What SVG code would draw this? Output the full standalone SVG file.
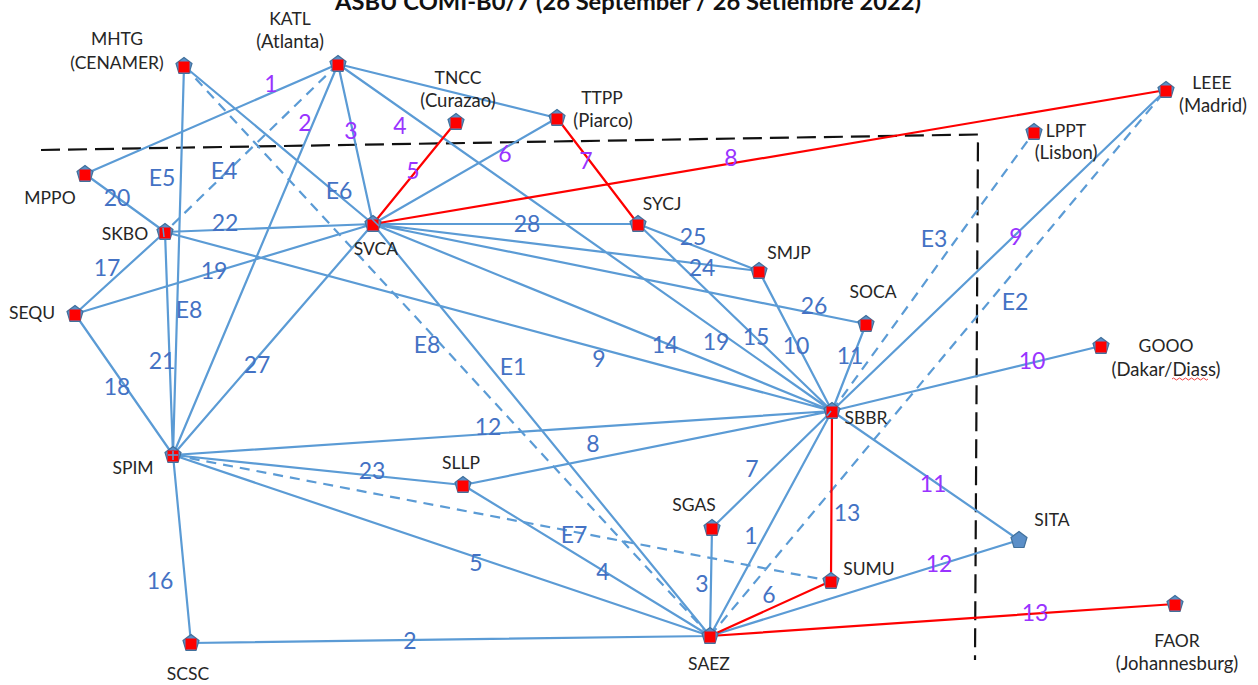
<svg xmlns="http://www.w3.org/2000/svg" width="1258" height="685" viewBox="0 0 1258 685">
<style>
text{font-family:Lato,"Open Sans","Liberation Sans",sans-serif}
.l{fill:none;stroke:#5b9bd5;stroke-width:2.2}
.d{fill:none;stroke:#5b9bd5;stroke-width:2.2;stroke-dasharray:10 7}
.r{fill:none;stroke:#fe0000;stroke-width:2.2}
.k{fill:none;stroke:#111;stroke-width:2.2;stroke-dasharray:19 8}
.n{font-size:17.500px;fill:#262626;text-anchor:middle}
.w{font-size:18.500px;fill:#262626;text-anchor:middle}
.b{font-size:23px;fill:#4472c4;text-anchor:middle}
.p{font-size:23px;fill:#9933ff;text-anchor:middle}
.pent{fill:#5b8fc8;stroke:#41719c;stroke-width:1.200}
.sq{fill:#fe0000}
.o{fill:none;stroke:#5b9bd5;stroke-width:1.500}
</style>
<defs>
<g id="m"><polygon class="pent" points="0,-8.500 8,-2.500 5,7.500 -5,7.500 -8,-2.500"/><rect class="sq" x="-5.500" y="-4.500" width="11" height="11"/></g>
</defs>
<rect width="1258" height="685" fill="#fff"/>
<text x="628" y="10" font-size="23.700" font-weight="700" fill="#111" text-anchor="middle">ASBU COMI-B0/7 (26 September / 26 Setiembre 2022)</text>
<g id="connectors">
<path class="k" d="M41 150L978 134.500L975 660"/>
<path class="l" d="M338 64L85 174M338 64L173 455M338 64L373 224M338 64L832 411M338 64L557 118M184 66L373 224M184 66L173 455M165 232L173 455M85 174L165 232M165 232L75 314M165 232L373 224M75 314L373 224M75 314L173 455M165 232L832 411M373 224L638 224M373 224L759 271M373 224L866 324M373 224L832 411M373 224L710 636M373 224L173 455M373 224L557 118M638 224L759 271M638 224L832 411M759 271L832 411M866 324L832 411M832 411L1166 90M832 411L1101 346M832 411L1019 540M832 411L173 455M832 411L463 485M832 411L712 528M832 411L710 636M173 455L463 485M173 455L710 636M173 455L191 643M463 485L710 636M712 528L710 636M191 643L710 636M710 636L1019 540"/>
<path class="d" d="M184 66L710 636M338 64L165 232M832 411L1034 132M710 636L1166 90M173 455L831 581"/>
<path class="r" d="M456 122L373 224M557 118L638 224M373 224L1166 90M832 411L831 581M710 636L831 581M710 636L1175 604"/>
</g>
<g id="SKBO"><use href="#m" x="165" y="232"/><path class="o" d="M163 228L164 237"/><text class="n" x="125" y="240">SKBO</text></g>
<g id="SVCA"><use href="#m" x="373" y="224"/><path class="o" d="M372 219L379 226"/><text class="n" x="376" y="255">SVCA</text></g>
<g id="SBBR"><use href="#m" x="832" y="411"/><path class="o" d="M827 416L831 411"/><text class="n" x="866" y="424">SBBR</text></g>
<g id="SPIM"><use href="#m" x="173" y="455"/><path class="o" d="M168 455H178M173 451V460"/><text class="n" x="133" y="474">SPIM</text></g>
<g id="MHTG"><use href="#m" x="184" y="66"/><text class="n" x="117" y="45">MHTG</text><text class="n" x="117" y="69">(CENAMER)</text></g>
<g id="KATL"><use href="#m" x="338" y="64"/><text class="n" x="290" y="25">KATL</text><text class="w" x="290" y="48">(Atlanta)</text></g>
<g id="TNCC"><use href="#m" x="456" y="122"/><text class="n" x="458" y="84">TNCC</text><text class="w" x="458" y="107">(Curazao)</text></g>
<g id="TTPP"><use href="#m" x="557" y="118"/><text class="n" x="602" y="104">TTPP</text><text class="w" x="603" y="127">(Piarco)</text></g>
<g id="LEEE"><use href="#m" x="1166" y="90"/><text class="n" x="1212" y="89">LEEE</text><text class="w" x="1213" y="112">(Madrid)</text></g>
<g id="LPPT"><use href="#m" x="1034" y="132"/><text class="n" x="1066" y="137">LPPT</text><text class="w" x="1066" y="159">(Lisbon)</text></g>
<g id="MPPO"><use href="#m" x="85" y="174"/><text class="n" x="50" y="204">MPPO</text></g>
<g id="SYCJ"><use href="#m" x="638" y="224"/><text class="n" x="662" y="210">SYCJ</text></g>
<g id="SMJP"><use href="#m" x="759" y="271"/><text class="n" x="789" y="259">SMJP</text></g>
<g id="SOCA"><use href="#m" x="866" y="324"/><text class="n" x="873" y="298">SOCA</text></g>
<g id="SEQU"><use href="#m" x="75" y="314"/><text class="n" x="32" y="319">SEQU</text></g>
<g id="GOOO"><use href="#m" x="1101" y="346"/><text class="n" x="1166" y="352">GOOO</text><text class="w" x="1166" y="376">(Dakar/Diass)</text><path d="M1172 379q1.500 -2 3 0t3 0t3 0t3 0t3 0t3 0t3 0t3 0t3 0t3 0t3 0t3 0" fill="none" stroke="#f04040" stroke-width="1"/></g>
<g id="SLLP"><use href="#m" x="463" y="485"/><text class="n" x="461" y="469">SLLP</text></g>
<g id="SGAS"><use href="#m" x="712" y="528"/><text class="n" x="694" y="511">SGAS</text></g>
<g id="SITA"><polygon class="pent" points="1019,531.500 1027,537.500 1024,547.500 1014,547.500 1011,537.500"/><text class="n" x="1052" y="526">SITA</text></g>
<g id="SUMU"><use href="#m" x="831" y="581"/><text class="n" x="869" y="575">SUMU</text></g>
<g id="SAEZ"><use href="#m" x="710" y="636"/><text class="n" x="709" y="670">SAEZ</text></g>
<g id="SCSC"><use href="#m" x="191" y="643"/><text class="n" x="188" y="680">SCSC</text></g>
<g id="FAOR"><use href="#m" x="1175" y="604"/><text class="n" x="1177" y="647">FAOR</text><text class="w" x="1177" y="670">(Johannesburg)</text></g>
<g id="labels">
<text class="p" x="271" y="92">1</text><text class="p" x="305" y="131">2</text><text class="p" x="351" y="139">3</text><text class="p" x="400" y="134">4</text><text class="p" x="413" y="179">5</text><text class="p" x="505" y="162">6</text><text class="p" x="586" y="169">7</text><text class="p" x="731" y="166">8</text><text class="p" x="1016" y="245">9</text><text class="p" x="1032" y="369">10</text><text class="p" x="933" y="492">11</text><text class="p" x="939" y="572">12</text><text class="p" x="1035" y="621">13</text>
<text class="b" x="162" y="186">E5</text><text class="b" x="224" y="179">E4</text><text class="b" x="339" y="199">E6</text><text class="b" x="117" y="206">20</text><text class="b" x="225" y="231">22</text><text class="b" x="107" y="276">17</text><text class="b" x="214" y="279">19</text><text class="b" x="189" y="318">E8</text><text class="b" x="162" y="369">21</text><text class="b" x="117" y="395">18</text><text class="b" x="257" y="373">27</text><text class="b" x="427" y="353">E8</text><text class="b" x="513" y="375">E1</text><text class="b" x="527" y="232">28</text><text class="b" x="693" y="245">25</text><text class="b" x="702" y="276">24</text><text class="b" x="814" y="314">26</text><text class="b" x="599" y="367">9</text><text class="b" x="665" y="353">14</text><text class="b" x="716" y="350">19</text><text class="b" x="756" y="345">15</text><text class="b" x="796" y="354">10</text><text class="b" x="850" y="364">11</text><text class="b" x="934" y="247">E3</text><text class="b" x="1015" y="310">E2</text><text class="b" x="488" y="435">12</text><text class="b" x="593" y="452">8</text><text class="b" x="372" y="479">23</text><text class="b" x="752" y="477">7</text><text class="b" x="847" y="521">13</text><text class="b" x="751" y="544">1</text><text class="b" x="574" y="543">E7</text><text class="b" x="476" y="571">5</text><text class="b" x="603" y="580">4</text><text class="b" x="702" y="592">3</text><text class="b" x="769" y="603">6</text><text class="b" x="160" y="589">16</text><text class="b" x="410" y="649">2</text>
</g>
</svg>
